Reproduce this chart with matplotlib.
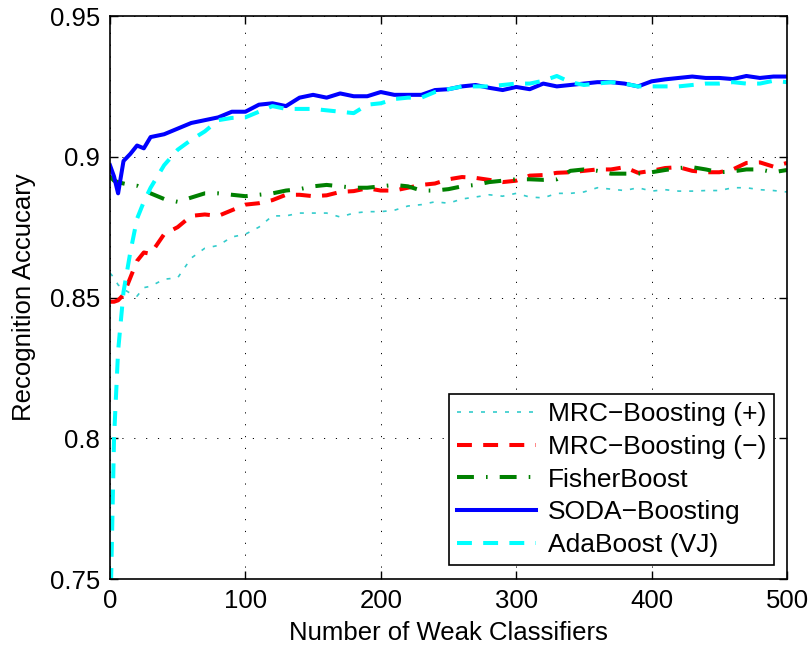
import matplotlib
matplotlib.use('Agg')
import matplotlib.pyplot as plt

plt.rcParams['font.family'] = ['Liberation Sans', 'DejaVu Sans']

# number of weak classifiers
x = [0, 3, 6, 10, 15, 20, 25, 30,
     40, 50, 60, 70, 80, 90, 100,
     110, 120, 130, 140, 150, 160, 170, 180, 190, 200,
     210, 220, 230, 240, 250, 260, 270, 280, 290, 300,
     310, 320, 330, 340, 350, 360, 370, 380, 390, 400,
     410, 420, 430, 440, 450, 460, 470, 480, 490, 500]

mrc_pos = [0.8587, 0.857, 0.8545, 0.853, 0.8515, 0.8505, 0.8535, 0.854,
           0.8565, 0.857, 0.864, 0.8675, 0.8685, 0.8715, 0.8725,
           0.875, 0.879, 0.879, 0.880, 0.880, 0.880, 0.8786, 0.880, 0.8805, 0.8805,
           0.881, 0.8825, 0.883, 0.884, 0.8835, 0.885, 0.8857, 0.8865, 0.886, 0.887,
           0.8857, 0.8854, 0.887, 0.887, 0.8875, 0.889, 0.8885, 0.888, 0.889, 0.8878,
           0.8883, 0.8878, 0.8878, 0.888, 0.888, 0.889, 0.889, 0.8883, 0.888, 0.8875]

mrc_neg = [0.8485, 0.8485, 0.849, 0.851, 0.857, 0.863, 0.866, 0.8655,
           0.8725, 0.875, 0.879, 0.8795, 0.879, 0.881, 0.883,
           0.8835, 0.8846, 0.8865, 0.8865, 0.886, 0.8863, 0.8875, 0.8878, 0.8888, 0.888,
           0.888, 0.889, 0.890, 0.8905, 0.892, 0.8928, 0.8925, 0.8918, 0.891, 0.8915,
           0.8933, 0.8935, 0.8943, 0.8945, 0.895, 0.8955, 0.8955, 0.8963, 0.8943, 0.895,
           0.896, 0.8963, 0.895, 0.8945, 0.8945, 0.8955, 0.8978, 0.898, 0.8965, 0.8978]

fisher = [0.893, 0.8915, 0.891, 0.8905, 0.890, 0.8897, 0.8885, 0.887,
          0.885, 0.884, 0.8855, 0.887, 0.887, 0.8865, 0.886,
          0.8865, 0.887, 0.888, 0.8885, 0.8895, 0.890, 0.8895, 0.889, 0.889, 0.8895,
          0.890, 0.8895, 0.888, 0.888, 0.8885, 0.8895, 0.890, 0.891, 0.8915, 0.892,
          0.892, 0.8918, 0.892, 0.895, 0.8955, 0.895, 0.894, 0.894, 0.894, 0.8945,
          0.8953, 0.896, 0.8963, 0.8955, 0.8945, 0.8948, 0.8955, 0.8955, 0.8945, 0.8953]

soda = [0.897, 0.893, 0.887, 0.8985, 0.901, 0.904, 0.903, 0.907,
        0.908, 0.910, 0.912, 0.913, 0.914, 0.916, 0.916,
        0.9185, 0.919, 0.918, 0.921, 0.922, 0.921, 0.9225, 0.9215, 0.9215, 0.923,
        0.922, 0.922, 0.922, 0.9237, 0.924, 0.925, 0.9255, 0.9245, 0.9237, 0.9248,
        0.924, 0.926, 0.925, 0.9255, 0.926, 0.9265, 0.9265, 0.926, 0.925, 0.9268,
        0.9275, 0.928, 0.9285, 0.928, 0.928, 0.9276, 0.9287, 0.928, 0.9285, 0.9285]

adaboost = [0.73, 0.80, 0.831, 0.852, 0.866, 0.878, 0.884, 0.889,
            0.897, 0.9025, 0.906, 0.909, 0.913, 0.9138, 0.914,
            0.916, 0.918, 0.917, 0.917, 0.917, 0.9165, 0.916, 0.9155, 0.9185, 0.919,
            0.9205, 0.921, 0.921, 0.923, 0.924, 0.925, 0.925, 0.925, 0.9255, 0.926,
            0.926, 0.927, 0.9287, 0.9265, 0.9255, 0.926, 0.9265, 0.926, 0.925, 0.925,
            0.925, 0.925, 0.9255, 0.926, 0.926, 0.9265, 0.926, 0.926, 0.927, 0.9265]

labels = ['MRC\u2212Boosting (+)', 'MRC\u2212Boosting (\u2212)', 'FisherBoost',
          'SODA\u2212Boosting', 'AdaBoost (VJ)']

xticks = [0, 100, 200, 300, 400, 500]
yticks = [0.75, 0.8, 0.85, 0.9, 0.95]
yticklabels = ['0.75', '0.8', '0.85', '0.9', '0.95']

fig = plt.figure(figsize=(8.11, 6.46), dpi=100)
ax = fig.add_axes([0.1356, 0.1037, 0.8348, 0.8715])

lw = 2.9
ax.plot(x, mrc_pos, color='#33cccc', lw=1.2, ls=(0, (2.4, 4.8)), label=labels[0])
ax.plot(x, mrc_neg, color='red', lw=lw, ls=(0, (3.7, 2.8)), label=labels[1])
ax.plot(x, fisher, color='#008000', lw=lw, ls=(0, (4.2, 3.0, 0.4, 3.0)), label=labels[2])
ax.plot(x, soda, color='blue', lw=lw, label=labels[3])
ax.plot(x, adaboost, color='cyan', lw=lw, ls=(0, (3.7, 2.8)), label=labels[4])

ax.set_xlim(0, 500)
ax.set_ylim(0.75, 0.95)
ax.set_xticks(xticks)
ax.set_yticks(yticks)
ax.set_yticklabels(yticklabels)
ax.grid(True, color='k', lw=0.7, ls=(0, (1.2, 11)))
ax.tick_params(direction='in', length=6, width=1, labelsize=18.5, top=True, right=True, pad=7)
for s in ax.spines.values():
    s.set_linewidth(1.2)

ax.set_xlabel('Number of Weak Classifiers', fontsize=18.5, labelpad=6)
ax.set_ylabel('Recognition Accucary', fontsize=18.5, labelpad=10)

leg = ax.legend(loc='lower right', bbox_to_anchor=(0.981, 0.025), borderaxespad=0,
                fontsize=19, handlelength=3.0, handletextpad=0.45, labelspacing=0.33,
                borderpad=0.3, fancybox=False, framealpha=1, edgecolor='k')
leg.get_frame().set_linewidth(1.2)

fig.savefig('out.png', dpi=100)
